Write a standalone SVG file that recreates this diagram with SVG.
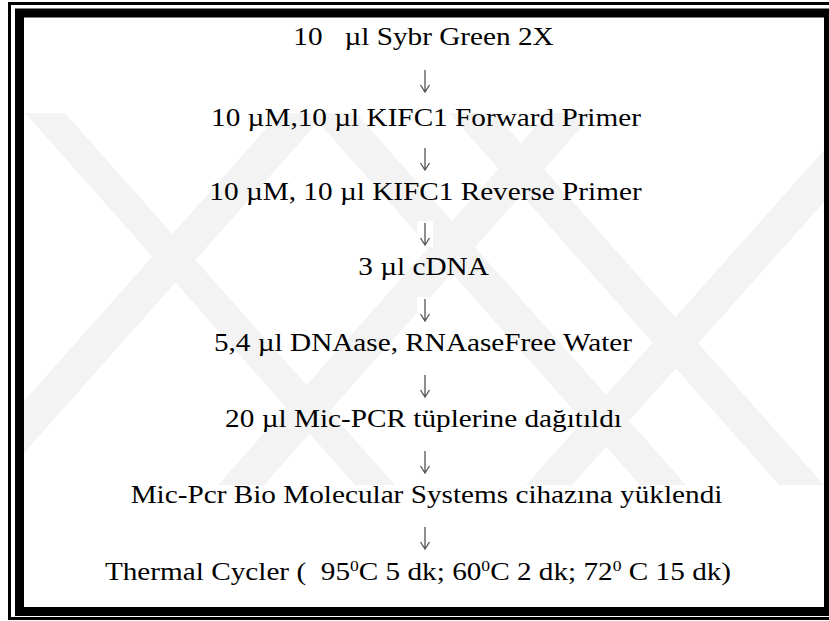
<svg xmlns="http://www.w3.org/2000/svg" width="829" height="621" viewBox="0 0 829 621">
<style>
.t{font-family:"Liberation Serif","Times New Roman",serif;font-size:25px;fill:#000;text-anchor:middle}
.a{fill:none;stroke:#555;stroke-width:1.3}
.sup{font-size:15px}
.wm{fill:#f3f3f3}
</style>
<rect width="829" height="621" fill="#fff"/>
<g id="watermark" class="wm">
<polygon points="25,113 65,113 395,485 355,485"/>
<polygon points="310,113 356,113 686,485 640,485"/>
<polygon points="449,113 494,113 824,485 779,485"/>
<polygon points="548,113 594,113 264,485 218,485"/>
<polygon points="280,113 326,113 24,453 24,401"/>
<polygon points="824,150 824,202 572,485 526,485"/>
</g>
<g id="frame" fill="none" stroke="#000">
<rect x="9.5" y="3.5" width="830" height="615" stroke-width="3"/>
<rect x="19.5" y="13" width="809" height="598.5" stroke-width="9"/>
</g>
<g id="connectors">
<g fill="#fff">
<rect x="417" y="68" width="16" height="26"/>
<rect x="417" y="146" width="16" height="26"/>
<rect x="417" y="221" width="16" height="26"/>
<rect x="417" y="297" width="16" height="26"/>
<rect x="417" y="373" width="16" height="26"/>
<rect x="417" y="449" width="16" height="26"/>
<rect x="417" y="525" width="16" height="26"/>
</g>
<g class="a">
<path d="M425,70 V92 M420.5,85 L425,92 L429.5,85"/>
<path d="M425,148 V170 M420.5,163 L425,170 L429.5,163"/>
<path d="M425,223 V245 M420.5,238 L425,245 L429.5,238"/>
<path d="M425,299 V321 M420.5,314 L425,321 L429.5,314"/>
<path d="M425,375 V397 M420.5,390 L425,397 L429.5,390"/>
<path d="M425,451 V473 M420.5,466 L425,473 L429.5,466"/>
<path d="M425,527 V549 M420.5,542 L425,549 L429.5,542"/>
</g>
</g>
<g id="n1"><text class="t" transform="matrix(1.17,0,0,1,423.5,45)" xml:space="preserve">10   µl Sybr Green 2X</text></g>
<g id="n2"><text class="t" transform="matrix(1.17,0,0,1,426,126)">10 µM,10 µl KIFC1 Forward Primer</text></g>
<g id="n3"><text class="t" transform="matrix(1.17,0,0,1,425.5,200)">10 µM, 10 µl KIFC1 Reverse Primer</text></g>
<g id="n4"><text class="t" transform="matrix(1.17,0,0,1,423.5,275)">3 µl cDNA</text></g>
<g id="n5"><text class="t" transform="matrix(1.17,0,0,1,423,351)">5,4 µl DNAase, RNAaseFree Water</text></g>
<g id="n6"><text class="t" transform="matrix(1.17,0,0,1,423.5,427)">20 µl Mic-PCR tüplerine dağıtıldı</text></g>
<g id="n7"><text class="t" transform="matrix(1.17,0,0,1,426.5,503)">Mic-Pcr Bio Molecular Systems cihazına yüklendi</text></g>
<g id="n8"><text class="t" transform="matrix(1.17,0,0,1,418,580)" xml:space="preserve">Thermal Cycler (  95<tspan class="sup" dy="-9">0</tspan><tspan dy="9">C 5 dk; 60</tspan><tspan class="sup" dy="-9">0</tspan><tspan dy="9">C 2 dk; 72</tspan><tspan class="sup" dy="-9">0</tspan><tspan dy="9"> C 15 dk)</tspan></text></g>
</svg>
